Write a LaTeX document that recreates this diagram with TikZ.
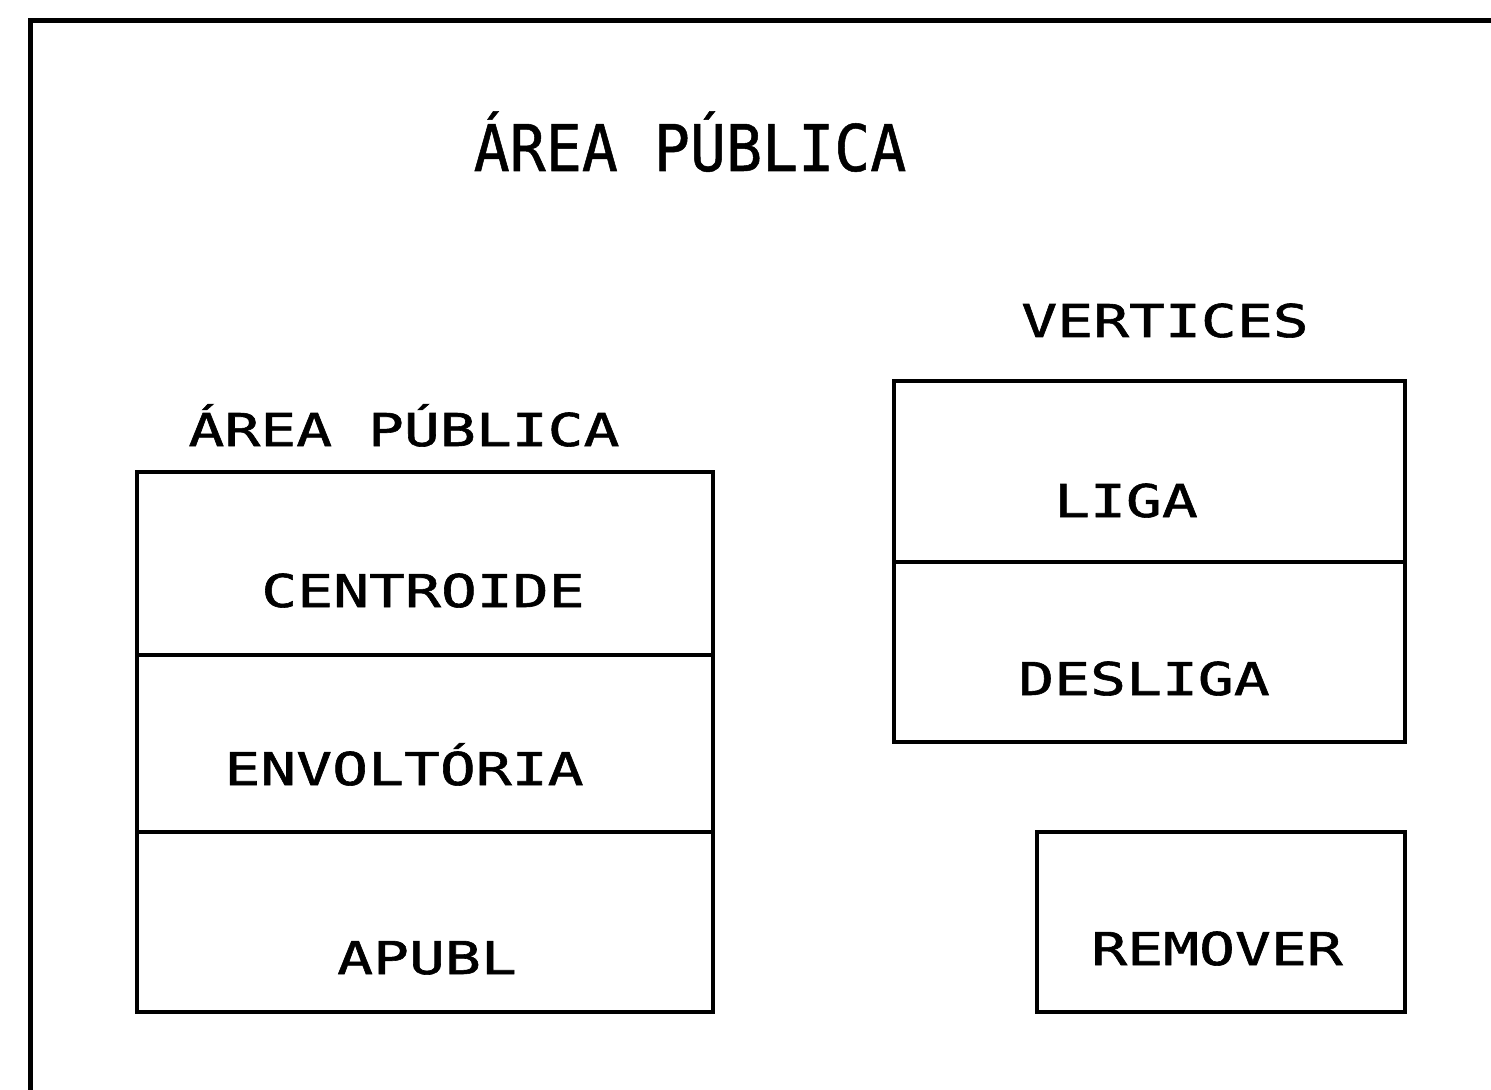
\documentclass[tikz,border=0pt]{standalone}
\usepackage{fontspec}
\newfontfamily\plotfont[FakeStretch=1.32,FakeBold=1.3]{DejaVu Sans Mono}
\newfontfamily\plottitle[FakeStretch=0.93,FakeBold=0.8]{DejaVu Sans Mono}
\tikzset{
  lbl/.style={anchor=base, inner sep=0pt, font=\plotfont\fontsize{22.6}{26}\selectfont},
  ttl/.style={anchor=base, inner sep=0pt, font=\plottitle\fontsize{32.2}{36}\selectfont},
  frame/.style={line width=2.5pt, line cap=rect},
  boxline/.style={line width=2.3pt, line cap=rect, line join=miter}
}
\begin{document}
\begin{tikzpicture}[x=0.5pt, y=-0.5pt]
\useasboundingbox (0,0) rectangle (1491,1090);
\clip (0,0) rectangle (1491,1090);
% outer frame (extends beyond the sheet)
\draw[frame] (30,1100) -- (30,21) -- (1500,21);
% titles
\node[ttl] (title) at (690,171) {ÁREA PÚBLICA};
\node[lbl] (subtitle) at (404,446) {ÁREA PÚBLICA};
\node[lbl] (vert) at (1165,337) {VERTICES};
% left box
\draw[boxline] (137,472) rectangle (713,1012);
\draw[boxline] (137,655) -- (713,655);
\draw[boxline] (137,832) -- (713,832);
\node[lbl] (centroide) at (423,607) {CENTROIDE};
\node[lbl] (envoltoria) at (404,785) {ENVOLTÓRIA};
\node[lbl] (apubl) at (427,974) {APUBL};
% right box
\draw[boxline] (894,381) rectangle (1405,742);
\draw[boxline] (894,562) -- (1405,562);
\node[lbl] (liga) at (1126,517) {LIGA};
\node[lbl] (desliga) at (1144,695) {DESLIGA};
% remover box
\draw[boxline] (1037,832) rectangle (1405,1012);
\node[lbl] (remover) at (1217,965) {REMOVER};
\end{tikzpicture}
\end{document}
